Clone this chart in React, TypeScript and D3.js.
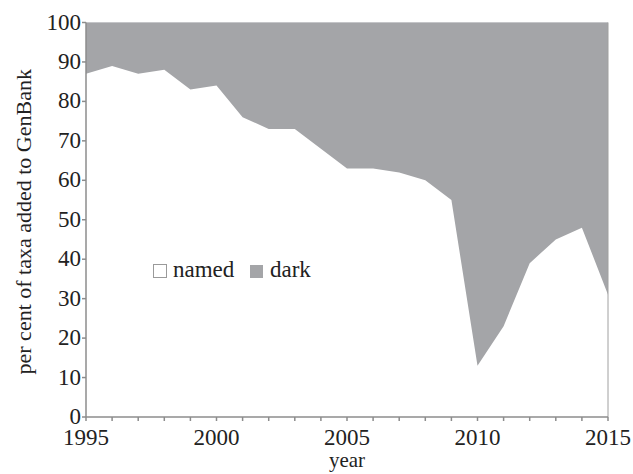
import React, { useEffect, useRef } from 'react';
import * as d3 from 'd3';

const years = [1995, 1996, 1997, 1998, 1999, 2000, 2001, 2002, 2003, 2004, 2005, 2006, 2007, 2008, 2009, 2010, 2011, 2012, 2013, 2014, 2015];
const named = [87, 89, 87, 88, 83, 84, 76, 73, 73, 68, 63, 63, 62, 60, 55, 13, 23, 39, 45, 48, 31];
const yTicks = [0, 10, 20, 30, 40, 50, 60, 70, 80, 90, 100];
const xLabels = [1995, 2000, 2005, 2010, 2015];

const App: React.FC = () => {
  const svgRef = useRef<SVGSVGElement | null>(null);

  useEffect(() => {
    const width = 633;
    const height = 474;
    const font = 'Liberation Serif';
    const axisColor = '#8c8c8c';
    const darkColor = '#a4a5a8';

    const x = d3.scaleLinear().domain([1995, 2015]).range([86, 608]);
    const y = d3.scaleLinear().domain([0, 100]).range([417, 22.5]);

    const svg = d3.select(svgRef.current)
      .attr('width', width)
      .attr('height', height)
      .attr('font-family', font)
      .attr('fill', '#222');
    svg.selectAll('*').remove();

    const rows = years.map((yr, i) => ({ year: yr, named: named[i] }));

    // dark fills everything above the named share
    svg.append('path')
      .datum(rows)
      .attr('fill', darkColor)
      .attr('d', d3.area<{ year: number; named: number }>()
        .x(d => x(d.year))
        .y0(d => y(d.named))
        .y1(y(100)));

    svg.append('line')
      .attr('x1', x(1995)).attr('x2', x(2015))
      .attr('y1', y(100)).attr('y2', y(100))
      .attr('stroke', '#c4c5c8').attr('stroke-width', 1);

    svg.append('line')
      .attr('x1', x(2015)).attr('x2', x(2015))
      .attr('y1', y(100)).attr('y2', y(0))
      .attr('stroke', '#a0a0a0').attr('stroke-width', 1);

    // axes
    const axes = svg.append('g').attr('stroke', axisColor).attr('stroke-width', 1.5);
    axes.append('line')
      .attr('x1', x(1995)).attr('x2', x(1995))
      .attr('y1', y(100)).attr('y2', y(0));
    axes.append('line')
      .attr('x1', x(1995)).attr('x2', x(2015))
      .attr('y1', y(0)).attr('y2', y(0));
    axes.selectAll('.xt').data(years).enter().append('line')
      .attr('x1', d => x(d)).attr('x2', d => x(d))
      .attr('y1', y(0)).attr('y2', y(0) + 4);
    axes.selectAll('.yt').data(yTicks).enter().append('line')
      .attr('x1', x(1995) - 4).attr('x2', x(1995))
      .attr('y1', d => y(d)).attr('y2', d => y(d));

    svg.selectAll('.yl').data(yTicks).enter().append('text')
      .attr('x', x(1995) - 5)
      .attr('y', d => y(d) + 7)
      .attr('text-anchor', 'end')
      .attr('font-size', 23)
      .text(d => d);

    svg.selectAll('.xl').data(xLabels).enter().append('text')
      .attr('x', d => x(d))
      .attr('y', 445)
      .attr('text-anchor', 'middle')
      .attr('font-size', 23)
      .text(d => d);

    svg.append('text')
      .attr('x', (x(1995) + x(2015)) / 2)
      .attr('y', 467)
      .attr('text-anchor', 'middle')
      .attr('font-size', 21)
      .text('year');

    svg.append('text')
      .attr('transform', `translate(31,${(y(0) + y(100)) / 2 + 2}) rotate(-90)`)
      .attr('text-anchor', 'middle')
      .attr('font-size', 22)
      .text('per cent of taxa added to GenBank');

    // legend
    const legend = svg.append('g').attr('font-size', 23);
    legend.append('rect')
      .attr('x', 153.5).attr('y', 264.5).attr('width', 13).attr('height', 13)
      .attr('fill', '#fff').attr('stroke', '#9a9a9a').attr('stroke-width', 1);
    legend.append('text').attr('x', 173).attr('y', 277).text('named');
    legend.append('rect')
      .attr('x', 250).attr('y', 265).attr('width', 13).attr('height', 13)
      .attr('fill', darkColor);
    legend.append('text').attr('x', 270).attr('y', 277).text('dark');
  }, []);

  return <svg ref={svgRef} style={{ position: 'absolute', left: 0, top: 0 }}></svg>;
};

export default App;
